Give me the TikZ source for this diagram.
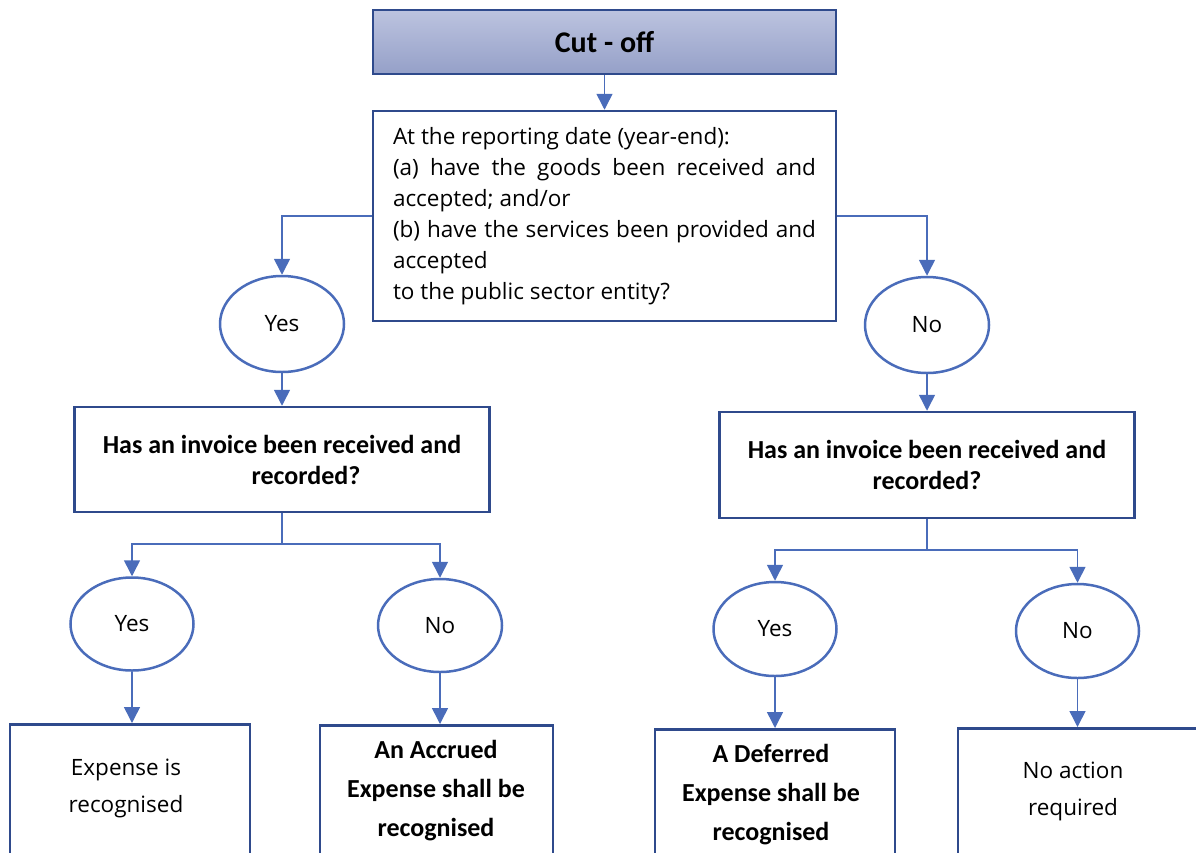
\documentclass[tikz,border=0pt]{standalone}
\usepackage{fontspec}
\setmainfont{Open Sans}
\newfontfamily\calib{Carlito}
\usetikzlibrary{shapes.geometric,arrows.meta}
\definecolor{lineblue}{HTML}{4A6CBA}
\definecolor{boxblue}{HTML}{2F4A8C}
\definecolor{topA}{HTML}{BCC3DF}
\definecolor{topB}{HTML}{95A0C8}
\tikzset{
  box/.style={draw=boxblue,line width=2.5pt,inner sep=0pt},
  oval/.style={ellipse,draw=lineblue,line width=2.5pt,inner sep=0pt,font=\fontsize{22.5}{26}\selectfont},
  conn/.style={draw=lineblue,line width=1.5pt},
  ask/.style={box,align=center,font=\calib\bfseries\fontsize{26}{31}\selectfont},
  result/.style={align=center,font=\fontsize{22.5}{37}\selectfont},
  boldresult/.style={align=center,font=\calib\bfseries\fontsize{26}{39}\selectfont},
}
\begin{document}
\begin{tikzpicture}[x=1pt,y=-1pt,>={Triangle[length=16pt,width=16pt]}]
	\clip (0,0) rectangle (1196,852);
	\node[box,top color=topA,bottom color=topB,minimum width=463pt,minimum height=64pt,font=\calib\bfseries\fontsize{30}{34}\selectfont] (cutoff) at (604.5,42) {Cut - off};
	\node[box,minimum width=463pt,minimum height=210pt,inner xsep=20pt,text width=423pt,align=justify,font=\fontsize{22.5}{31}\selectfont] (q) at (604.5,216) {At the reporting date (year-end):\\(a) have the goods been received and\linebreak accepted; and/or\\(b) have the services been provided and\linebreak accepted\\to the public sector entity?};
	\node[oval,minimum width=124pt,minimum height=96pt] (yesA) at (282,324) {Yes};
	\node[oval,minimum width=124pt,minimum height=96pt] (noA) at (927,325) {No};
	\node[ask,minimum width=415pt,minimum height=105pt] (invA) at (282,459.5) {Has an invoice been received and\\\hspace*{48pt}recorded?};
	\node[ask,minimum width=415pt,minimum height=106pt] (invB) at (927,465) {Has an invoice been received and\\recorded?};
	\coordinate (forkA) at (282,544);
	\coordinate (forkB) at (927,550);
	\node[oval,minimum width=123pt,minimum height=93pt] (yesB) at (132,624) {Yes};
	\node[oval,minimum width=124pt,minimum height=93pt] (noB) at (440,625.5) {No};
	\node[oval,minimum width=123pt,minimum height=94pt] (yesC) at (775,629) {Yes};
	\node[oval,minimum width=123pt,minimum height=94pt] (noC) at (1077.5,631) {No};
	% outcome boxes, they run past the bottom edge
	\node[box,anchor=north,minimum width=240pt,minimum height=170pt] (expA) at (130,723) {};
	\node[box,anchor=north,minimum width=233pt,minimum height=170pt] (accA) at (436.5,724) {};
	\node[box,anchor=north,minimum width=240pt,minimum height=170pt] (defA) at (775,728) {};
	\node[box,anchor=north,minimum width=262pt,minimum height=170pt] (noneA) at (1089,727) {};
	\node[result] (expT) at (126,788) {Expense is\\recognised};
	\node[boldresult] (accT) at (436,791) {An Accrued\\Expense shall be\\recognised};
	\node[boldresult] (defT) at (771,795) {A Deferred\\Expense shall be\\recognised};
	\node[result] (noneT) at (1073,791) {No action\\required};
	% connectors
	\draw[conn,->] (cutoff) -- (q);
	\draw[conn,->] (q.west) -| (yesA);
	\draw[conn,->] (q.east) -| (noA);
	\draw[conn,->] (yesA) -- (invA);
	\draw[conn,->] (noA) -- (invB);
	\draw[conn] (invA) -- (forkA);
	\draw[conn,->] (forkA) -| (yesB);
	\draw[conn,->] (forkA) -| (noB);
	\draw[conn] (invB) -- (forkB);
	\draw[conn,->] (forkB) -| (yesC);
	\draw[conn,->] (forkB) -| (noC);
	\draw[conn,->] (yesB.south) -- (yesB.south |- expA.north);
	\draw[conn,->] (noB.south) -- (noB.south |- accA.north);
	\draw[conn,->] (yesC.south) -- (yesC.south |- defA.north);
	\draw[conn,->] (noC.south) -- (noC.south |- noneA.north);
\end{tikzpicture}
\end{document}
